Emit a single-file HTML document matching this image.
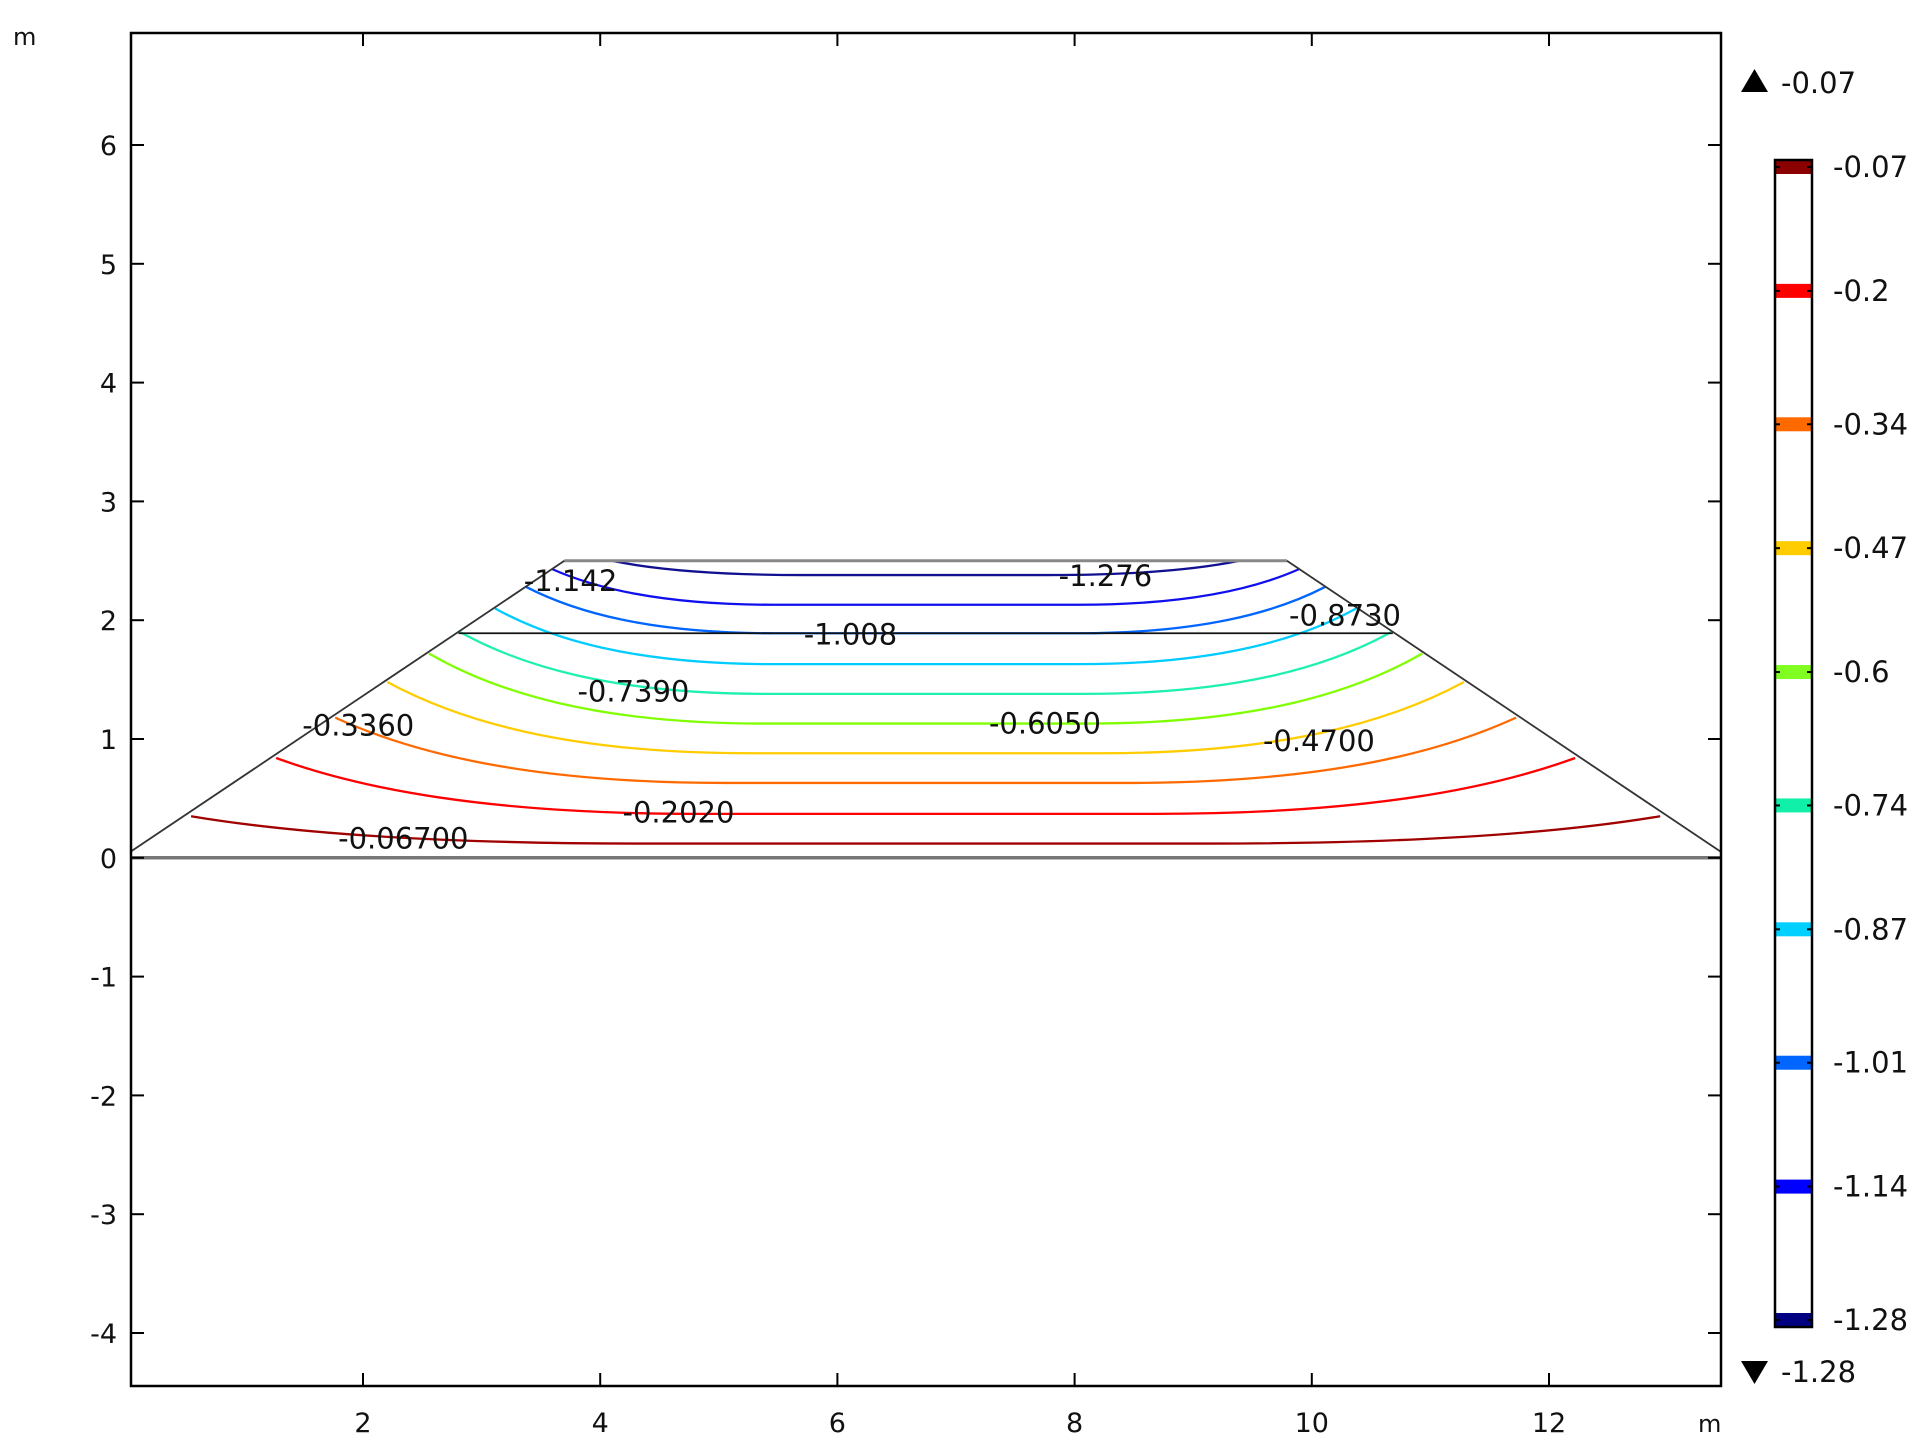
<!DOCTYPE html>
<html><head><meta charset="utf-8">
<style>
html,body{margin:0;padding:0;background:#fff;}
svg{display:block;font-family:"DejaVu Sans","Liberation Sans",sans-serif;}
</style></head>
<body>
<svg id="chart" width="1932" height="1455" viewBox="0 0 1932 1455" xmlns="http://www.w3.org/2000/svg">
<rect x="0" y="0" width="1932" height="1455" fill="#fff"/>
<g id="contours"></g>
<g id="geom"></g>
<g id="labels"></g>
<g id="axes"></g>
<g id="cbar"></g>
</svg>
<script>
// ---- data ----
const levels = [-0.067, -0.202, -0.336, -0.470, -0.605, -0.739, -0.873, -1.008, -1.142, -1.276];
const flatY  = [0.12, 0.37, 0.63, 0.88, 1.13, 1.38, 1.63, 1.89, 2.13, 2.38];
const endY   = [0.35, 0.84, 1.18, 1.48, 1.72, 1.90, 2.10, 2.28, 2.43, 2.50];
const endInset = [0, 0, 0, 0, 0, 0, 0, 0, 0, 0.4];
const colors = ["#a00000", "#ff0000", "#ff6a00", "#ffcc00", "#80ff00", "#1ef0b0", "#00ccff", "#0066ff", "#1010ee", "#101090"];
const labelText = ["-0.06700", "-0.2020", "-0.3360", "-0.4700", "-0.6050", "-0.7390", "-0.8730", "-1.008", "-1.142", "-1.276"];
const labelX = [2.34, 4.66, 1.96, 10.06, 7.75, 4.28, 10.28, 6.11, 3.75, 8.26];
const labelY = [0.17, 0.39, 1.12, 0.99, 1.14, 1.41, 2.05, 1.89, 2.34, 2.38];
const xTicks = [2, 4, 6, 8, 10, 12];
const yTicks = [-4, -3, -2, -1, 0, 1, 2, 3, 4, 5, 6];
const cbarValues = [-0.07, -0.2, -0.34, -0.47, -0.6, -0.74, -0.87, -1.01, -1.14, -1.28];
const cbarColors = ["#8b0000", "#ff0000", "#ff6a00", "#ffcc00", "#80ff20", "#10f0a8", "#00d0ff", "#0066ff", "#0000ff", "#000080"];
const geomBottom = [0.038, 13.45];
const geomTopY = 2.5;
const geomMidY = 1.89;
const slopeRun = 1.464;

// ---- axes mapping ----
const NS = "http://www.w3.org/2000/svg";
const PL = 131, PR = 1721, PT = 33, PB = 1386;
const X = x => 125.8 + x * 118.6;
const Y = y => 857.8 - y * 118.8;
function el(tag, attrs, parent, text) {
  const e = document.createElementNS(NS, tag);
  for (const k in attrs) e.setAttribute(k, attrs[k]);
  if (text !== undefined) e.textContent = text;
  parent.appendChild(e);
  return e;
}
const leftX = y => geomBottom[0] + slopeRun * y;
const rightX = y => geomBottom[1] - slopeRun * y;

// contours
const gC = document.getElementById("contours");
levels.forEach((lv, i) => {
  const yc = flatY[i], ye = endY[i];
  const xl = leftX(ye) + endInset[i], xr = rightX(ye) - endInset[i];
  const w = 1.5 + 2.4 * (1 - yc / 2.5);
  const d = `M${X(xl)},${Y(ye)} C${X(xl + 0.2 * w)},${Y(yc + (ye - yc) * 0.45)} ${X(xl + 0.5 * w)},${Y(yc)} ${X(xl + w)},${Y(yc)} L${X(xr - w)},${Y(yc)} C${X(xr - 0.5 * w)},${Y(yc)} ${X(xr - 0.2 * w)},${Y(yc + (ye - yc) * 0.45)} ${X(xr)},${Y(ye)}`;
  const p = el("path", {d: d, fill: "none", stroke: colors[i], "stroke-width": 2.3}, gC);
  
  
});

// geometry
const gG = document.getElementById("geom");
const b = el("line", {x1: PL, y1: Y(0), x2: PR, y2: Y(0), stroke: "#777", "stroke-width": 3.5}, gG);


const t = el("line", {x1: X(leftX(geomTopY)), y1: Y(geomTopY), x2: X(rightX(geomTopY)), y2: Y(geomTopY), stroke: "#888", "stroke-width": 3}, gG);


const m = el("line", {x1: X(leftX(geomMidY)), y1: Y(geomMidY), x2: X(rightX(geomMidY)), y2: Y(geomMidY), stroke: "#111", "stroke-width": 1.8}, gG);


const sl = el("line", {x1: X(geomBottom[0]), y1: Y(0.05), x2: X(leftX(geomTopY)), y2: Y(geomTopY), stroke: "#333", "stroke-width": 1.8}, gG);


const sr = el("line", {x1: X(geomBottom[1]), y1: Y(0.05), x2: X(rightX(geomTopY)), y2: Y(geomTopY), stroke: "#333", "stroke-width": 1.8}, gG);



// labels
const gL = document.getElementById("labels");
labelText.forEach((s, i) => {
  const tx = el("text", {x: X(labelX[i]), y: Y(labelY[i]) + 11, "font-size": 29, "text-anchor": "middle", fill: "#111"}, gL, s);
  
  
});

// axes
const gA = document.getElementById("axes");
const fr = el("rect", {x: PL, y: PT, width: PR - PL, height: PB - PT, fill: "none", stroke: "#000", "stroke-width": 2.5}, gA);


xTicks.forEach(v => {
  const x = X(v);
  el("line", {x1: x, y1: PB, x2: x, y2: PB - 13, stroke: "#000", "stroke-width": 2}, gA);
  el("line", {x1: x, y1: PT, x2: x, y2: PT + 13, stroke: "#000", "stroke-width": 2}, gA);
  const tl = el("text", {x: x, y: 1432, "font-size": 27, "text-anchor": "middle", fill: "#111"}, gA, String(v));
  
  
});
yTicks.forEach(v => {
  const y = Y(v);
  el("line", {x1: PL, y1: y, x2: PL + 13, y2: y, stroke: "#000", "stroke-width": 2}, gA);
  el("line", {x1: PR, y1: y, x2: PR - 13, y2: y, stroke: "#000", "stroke-width": 2}, gA);
  const tl = el("text", {x: 117, y: y + 10, "font-size": 27, "text-anchor": "end", fill: "#111"}, gA, String(v));
  
  
});
const yu = el("text", {x: 13, y: 45, "font-size": 24, fill: "#111"}, gA, "m");


const xu = el("text", {x: 1698, y: 1432, "font-size": 24, fill: "#111"}, gA, "m");



// color bar
const gB = document.getElementById("cbar");
const CB_L = 1775, CB_R = 1812, CB_T = 160, CB_B = 1327;
const vMax = -0.07, vMin = -1.28;
const CY = v => CB_T + 7 + (vMax - v) / (vMax - vMin) * (CB_B - CB_T - 14);
cbarValues.forEach((v, i) => {
  const cy = CY(v);
  const r = el("rect", {x: CB_L, y: cy - 7, width: CB_R - CB_L, height: 14, fill: cbarColors[i]}, gB);
  
  
  el("line", {x1: CB_L, y1: cy, x2: CB_L + 5, y2: cy, stroke: "#000", "stroke-width": 2}, gB);
  el("line", {x1: CB_R - 5, y1: cy, x2: CB_R, y2: cy, stroke: "#000", "stroke-width": 2}, gB);
  const tl = el("text", {x: 1833, y: cy + 10, "font-size": 29, fill: "#111"}, gB, String(v));
  
  
});
const cbf = el("rect", {x: CB_L, y: CB_T, width: CB_R - CB_L, height: CB_B - CB_T, fill: "none", stroke: "#000", "stroke-width": 2.5}, gB);


const up = el("polygon", {points: "1741,92 1768,92 1754.5,69", fill: "#000"}, gB);


const upT = el("text", {x: 1781, y: 93, "font-size": 29, fill: "#111"}, gB, String(vMax));


const dn = el("polygon", {points: "1741,1361 1768,1361 1754.5,1384", fill: "#000"}, gB);


const dnT = el("text", {x: 1781, y: 1382, "font-size": 29, fill: "#111"}, gB, String(vMin));


</script>
</body></html>
